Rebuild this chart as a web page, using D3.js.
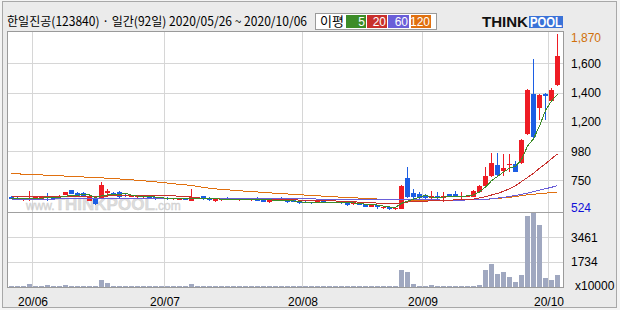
<!DOCTYPE html>
<html>
<head>
<meta charset="utf-8">
<script src="https://cdn.jsdelivr.net/npm/d3@7"></script>
<style>
  body { margin: 0; background: #f4f4f4; }
  svg { display: block; }
  .num { font-family: "Liberation Sans", Arial, sans-serif; font-size: 12px; }
</style>
</head>
<body>
<svg id="chart" width="620" height="310"></svg>
<script>
// daily candles, 2020/05/26 ~ 2020/10/06 (92 trading days)
const opens = [625,617,598,598,612,609,635,625,622,640,675,657,657,593,609,609,653,657,664,640,625,620,622,626,622,620,617,608,603,612,593,620,630,617,595,605,609,609,605,609,598,617,603,582,614,617,598,598,590,587,582,577,590,580,584,583,580,569,580,569,550,561,537,547,529,535,771,651,643,640,614,635,614,643,643,630,625,625,664,709,787,871,822,875,884,886,1110,1393,1298,1393,1342,1453];
const highs = [630,622,612,673,624,630,651,630,640,664,678,660,660,627,612,736,688,660,667,645,636,635,633,630,625,623,620,617,615,615,683,624,633,620,612,612,622,615,613,613,614,622,606,612,617,620,601,603,593,590,587,603,593,588,587,586,584,590,583,572,565,564,553,551,546,714,855,683,659,645,669,659,661,648,669,659,640,674,717,858,970,970,957,957,906,1075,1430,1644,1392,1398,1435,1870];
const lows = [605,598,595,595,608,605,592,606,616,636,646,632,622,590,565,605,625,630,618,625,621,616,618,610,603,606,600,604,598,602,590,605,603,595,585,590,598,601,590,601,595,592,584,580,595,590,579,582,571,576,571,574,582,577,577,571,558,566,562,547,546,529,532,524,526,530,618,609,603,610,590,603,587,626,622,609,620,620,656,696,775,787,787,814,814,880,1105,1080,1214,1214,1335,1445];
const closes = [612,604,609,617,620,627,619,612,633,661,649,635,625,623,569,714,669,635,622,630,632,630,630,614,607,609,606,614,611,606,627,609,609,598,609,609,606,606,609,605,611,595,587,609,598,593,582,587,574,580,579,595,585,585,581,574,563,587,566,550,561,545,550,529,542,710,623,625,617,614,635,619,630,630,630,635,635,669,709,787,886,793,853,883,819,1068,1420,1085,1387,1382,1420,1668];
// volume, x10000 shares
const volumes = [60,55,50,212,65,60,140,55,60,140,90,70,60,65,75,495,304,80,70,60,55,50,50,45,50,45,45,40,45,50,212,60,50,45,45,40,45,40,45,40,45,50,45,50,45,40,45,50,45,40,45,40,45,40,45,50,55,45,50,55,50,55,50,60,55,1203,1083,212,60,55,141,50,55,45,50,45,50,70,150,1203,1628,920,1083,729,375,849,4975,5167,4317,616,495,849];
// moving averages as drawn
const ma5 = [615,612,610,611,612,615,618,619,622,630,635,638,641,639,620,633,640,642,642,654,638,630,629,627,623,618,613,610,609,609,613,613,612,610,610,607,606,606,608,607,607,605,601,601,600,596,594,594,587,583,580,583,583,585,585,584,578,578,574,568,565,562,554,547,545,575,591,606,623,638,623,622,623,626,629,629,632,640,662,700,748,782,816,848,862,915,1020,1075,1170,1280,1345,1391];
const ma20 = [625,625,624,624,625,625,626,626,627,627,628,628,628,627,627,629,631,633,635,636,637,638,638,638,637,636,634,632,630,627,623,618,613,610,609,608,608,608,607,607,607,607,606,606,606,605,604,603,600,597,595,595,594,594,593,592,590,587,584,582,580,577,575,574,574,578,585,587,589,592,594,596,598,600,601,602,604,607,616,627,639,651,667,687,710,742,773,808,847,883,922,961];
const ma60 = [606,606,607,607,607,608,608,608,609,609,609,610,610,610,611,611,612,612,612,613,613,613,613,613,614,614,614,614,613,613,613,613,612,612,612,612,611,611,611,611,611,611,611,610,610,610,610,610,609,609,609,608,608,607,607,606,606,605,605,604,604,603,603,602,602,602,602,602,601,601,601,601,600,600,600,600,601,602,603,606,610,615,621,628,636,644,654,665,676,687,698,710];
const ma120 = [803,802,801,799,797,794,792,791,787,785,783,780,778,776,774,771,768,765,762,759,755,752,748,744,740,735,730,725,721,717,712,705,696,691,686,682,679,675,672,668,665,662,659,656,652,650,647,644,641,638,635,633,630,627,625,622,620,618,615,613,610,608,606,603,602,601,601,600,600,600,599,599,599,600,600,600,601,602,603,606,609,613,617,621,627,634,640,645,649,653,658,662];

const priceTicks = [1870, 1600, 1400, 1200, 980, 750, 524];
const volTicks = [3461, 1734];
const monthIndex = [4, 26, 49, 69, 90];
const monthLabels = ['20/06', '20/07', '20/08', '20/09', '20/10'];
const maNames = ['5', '20', '60', '120'];
const maColors = ['#3c8c28', '#c8302c', '#6a5ed8', '#e07010'];

const svg = d3.select('#chart');
const L = 7.5, R = 563.5, T = 31.5, MID = 212.5, B = 287.5;

svg.append('rect').attr('x', 2.5).attr('y', 1.5).attr('width', 614).attr('height', 306)
    .attr('fill', '#ebebeb').attr('stroke', '#a8a8a8');
svg.append('rect').attr('x', L).attr('y', T).attr('width', R - L).attr('height', B - T)
    .attr('fill', '#fff');

const idx = d3.range(closes.length);
const x = d3.scaleBand().domain(idx).range([9, 9 + 6 * idx.length - 1]).paddingInner(1 / 6).paddingOuter(0);
const cx = i => Math.floor(x(i) + x.bandwidth() / 2) + 0.5;

// price axis is not evenly valued: grid lines evenly spaced, labels as printed
const y = d3.scaleLinear().domain([524, 750, 980, 1200, 1400, 1600, 1870])
    .range([210, 180.5, 151.5, 122, 93, 63.5, 34]);
const yv = d3.scaleLinear().domain([0, 5190]).range([287, 213]);

const grid = svg.append('g').attr('stroke', '#d6d6d6').attr('shape-rendering', 'crispEdges');
monthIndex.forEach(i => {
    grid.append('line').attr('x1', x(i) - 0.5).attr('x2', x(i) - 0.5).attr('y1', T).attr('y2', B);
});
priceTicks.slice(1, 6).forEach(v => {
    const yy = Math.floor(y(v)) + 0.5;
    grid.append('line').attr('x1', L).attr('x2', R).attr('y1', yy).attr('y2', yy);
});
volTicks.forEach(v => {
    const yy = Math.floor(yv(v)) + 0.5;
    grid.append('line').attr('x1', L).attr('x2', R).attr('y1', yy).attr('y2', yy);
});

// watermark
const wm = svg.append('text').attr('x', 26).attr('y', 210)
    .attr('font-family', 'Liberation Sans, Arial, sans-serif').attr('fill', '#d2d2d2')
    .attr('stroke', '#bdbdbd').attr('stroke-width', 0.4).attr('opacity', 0.75);
wm.append('tspan').attr('font-size', 12).text('www.');
wm.append('tspan').attr('font-size', 17).attr('font-weight', 'bold').text('THINKPOOL');
wm.append('tspan').attr('font-size', 12).text('.com');

// volume bars
svg.append('g').attr('fill', '#a0a8c0').attr('shape-rendering', 'crispEdges')
    .selectAll('rect').data(idx).join('rect')
    .attr('x', i => x(i)).attr('width', x.bandwidth())
    .attr('y', i => Math.min(yv(volumes[i]), 286))
    .attr('height', i => Math.max(1, 287 - yv(volumes[i])));

// candles
const up = i => closes[i] >= opens[i];
const cg = svg.append('g').attr('shape-rendering', 'crispEdges');
cg.selectAll('line').data(idx).join('line')
    .attr('x1', cx).attr('x2', cx)
    .attr('y1', i => y(highs[i])).attr('y2', i => y(lows[i]))
    .attr('stroke', i => up(i) ? '#ee1c24' : '#1c5ee4');
cg.selectAll('rect').data(idx).join('rect')
    .attr('x', i => x(i)).attr('width', x.bandwidth())
    .attr('y', i => y(Math.max(opens[i], closes[i])))
    .attr('height', i => Math.max(1, Math.abs(y(opens[i]) - y(closes[i]))))
    .attr('fill', i => up(i) ? '#ee1c24' : '#1c5ee4');

// moving averages
[ma120, ma60, ma20, ma5].forEach((arr, k) => {
    const col = maColors[3 - k];
    svg.append('path')
        .attr('d', d3.line().x((d, i) => cx(i)).y(d => y(d))(arr))
        .attr('fill', 'none').attr('stroke', col).attr('stroke-width', 1)
        .attr('shape-rendering', 'crispEdges');
});

// frame and divider
svg.append('rect').attr('x', L).attr('y', T).attr('width', R - L).attr('height', B - T)
    .attr('fill', 'none').attr('stroke', '#9a9a9a').attr('shape-rendering', 'crispEdges');
svg.append('line').attr('x1', L).attr('x2', R).attr('y1', MID).attr('y2', MID)
    .attr('stroke', '#a0a0a0').attr('shape-rendering', 'crispEdges');

// right axis labels
const ax = svg.append('g').attr('class', 'num');
priceTicks.forEach((v, k) => {
    const yy = Math.max(38, Math.min(208, y(v)));
    ax.append('text').attr('x', 571).attr('y', yy).attr('dy', '0.35em')
        .attr('fill', k === 0 ? '#d0700a' : (k === priceTicks.length - 1 ? '#1010d8' : '#000'))
        .text(d3.format(',')(v));
});
volTicks.forEach(v => {
    ax.append('text').attr('x', 571).attr('y', yv(v)).attr('dy', '0.35em').text(v);
});
ax.append('text').attr('x', 575).attr('y', 286).attr('dy', '0.35em').text('x10000');

// month labels
monthIndex.forEach((i, k) => {
    ax.append('text').attr('x', x(i)).attr('y', 306).attr('text-anchor', 'middle')
        .text(monthLabels[k]);
});

// header
svg.append('text').attr('x', 7).attr('y', 26)
    .attr('font-family', '"Noto Sans CJK KR", sans-serif').attr('font-size', 12.5)
    .attr('textLength', 300).attr('lengthAdjust', 'spacingAndGlyphs')
    .text('한일진공(123840) · 일간(92일) 2020/05/26 ~ 2020/10/06');

// legend
const lg = svg.append('g').attr('shape-rendering', 'crispEdges');
lg.append('rect').attr('x', 315.5).attr('y', 13.5).attr('width', 121).attr('height', 16)
    .attr('fill', '#fff').attr('stroke', '#9a9a9a');
lg.append('text').attr('x', 320).attr('y', 26).attr('font-size', 13)
    .attr('font-family', '"Noto Sans CJK KR", sans-serif').text('이평');
const cellX = [346, 367, 388, 411];
const cellW = [20, 20, 21, 20];
maNames.forEach((n, k) => {
    lg.append('rect').attr('x', cellX[k]).attr('y', 15).attr('width', cellW[k]).attr('height', 13)
        .attr('fill', maColors[k]);
    lg.append('text').attr('class', 'num').attr('x', cellX[k] + cellW[k] - 1).attr('y', 26)
        .attr('text-anchor', 'end').attr('fill', '#fff').text(n);
});

// logo
const logo = svg.append('g').attr('font-family', '"Liberation Sans", Arial, sans-serif')
    .attr('font-weight', 'bold');
logo.append('text').attr('x', 482).attr('y', 27).attr('font-size', 14)
    .attr('textLength', 46).attr('lengthAdjust', 'spacingAndGlyphs').attr('fill', '#111').text('THINK');
logo.append('rect').attr('x', 529).attr('y', 16).attr('width', 34).attr('height', 12).attr('fill', '#3a72d8');
logo.append('text').attr('x', 530).attr('y', 27).attr('font-size', 14)
    .attr('textLength', 32).attr('lengthAdjust', 'spacingAndGlyphs').attr('fill', '#fff').text('POOL');
</script>
</body>
</html>
